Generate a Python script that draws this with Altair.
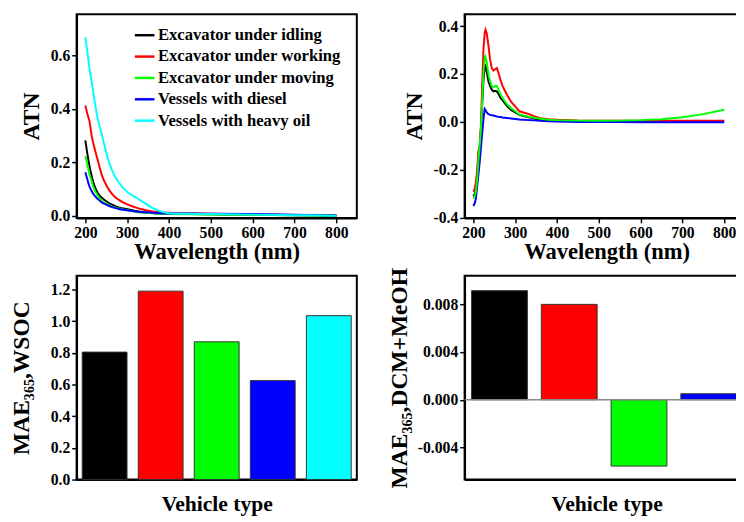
import altair as alt
import pandas as pd

FONT = "Liberation Serif"

series = ["Excavator under idling", "Excavator under working", "Excavator under moving",
          "Vessels with diesel", "Vessels with heavy oil"]
colors = ["#000000", "#FF0000", "#00FF00", "#0000FF", "#00FFFF"]

# ---- Panel (a): total ATN spectra ----
wl_a = [200, 205, 210, 215, 220, 230, 240, 250, 260, 270, 280, 300, 320, 340, 360, 380,
        400, 450, 500, 600, 700, 800]
atn_a_idling = [0.282, 0.23, 0.185, 0.15, 0.12, 0.085, 0.067, 0.055, 0.045, 0.038, 0.032,
                0.025, 0.019, 0.014, 0.011, 0.009, 0.008, 0.007, 0.006, 0.004, 0.003, 0.001]
atn_a_working = [0.413, 0.38, 0.352, 0.30, 0.265, 0.206, 0.15, 0.115, 0.09, 0.072, 0.060,
                 0.043, 0.032, 0.023, 0.017, 0.014, 0.012, 0.010, 0.008, 0.006, 0.004, 0.002]
atn_a_moving = [0.224, 0.19, 0.155, 0.13, 0.105, 0.075, 0.055, 0.045, 0.038, 0.032, 0.028,
                0.021, 0.016, 0.012, 0.010, 0.008, 0.007, 0.006, 0.005, 0.004, 0.003, 0.001]
atn_a_diesel = [0.163, 0.135, 0.109, 0.093, 0.08, 0.063, 0.05, 0.042, 0.035, 0.03, 0.026,
                0.021, 0.017, 0.014, 0.012, 0.010, 0.009, 0.009, 0.008, 0.007, 0.005, 0.002]
atn_a_heavy = [0.668, 0.61, 0.55, 0.50, 0.45, 0.36, 0.30, 0.235, 0.185, 0.15, 0.125,
               0.09, 0.07, 0.05, 0.03, 0.017, 0.010, 0.008, 0.007, 0.005, 0.003, 0.001]

# ---- Panel (b): ATN spectra (4 series) ----
wl_b = [200, 203, 206, 209, 212, 215, 218, 221, 224, 227, 229, 232, 236, 240, 244, 248, 252,
        256, 260, 265, 270, 280, 290, 300, 310, 320, 335, 345, 360, 380, 400, 450, 500, 550,
        600, 650, 700, 750, 800]
atn_b_idling = [-0.31, -0.3, -0.28, -0.23, -0.16, -0.1, -0.03, 0.07, 0.17, 0.23, 0.235, 0.21,
                0.17, 0.15, 0.135, 0.128, 0.13, 0.128, 0.118, 0.1, 0.09, 0.068, 0.05, 0.04,
                0.03, 0.025, 0.019, 0.015, 0.01, 0.007, 0.005, 0.004, 0.003, 0.003, 0.003,
                0.003, 0.003, 0.003, 0.003]
atn_b_working = [-0.29, -0.28, -0.25, -0.2, -0.12, -0.11, -0.02, 0.15, 0.3, 0.37, 0.385, 0.37,
                 0.32, 0.26, 0.225, 0.215, 0.22, 0.225, 0.205, 0.175, 0.15, 0.115, 0.085,
                 0.065, 0.045, 0.04, 0.032, 0.025, 0.016, 0.012, 0.01, 0.007, 0.006, 0.005,
                 0.005, 0.005, 0.005, 0.005, 0.005]
atn_b_moving = [-0.32, -0.31, -0.29, -0.24, -0.16, -0.1, -0.03, 0.08, 0.2, 0.27, 0.275, 0.25,
                0.2, 0.17, 0.15, 0.145, 0.15, 0.15, 0.135, 0.115, 0.1, 0.075, 0.058, 0.045,
                0.032, 0.027, 0.021, 0.018, 0.014, 0.01, 0.008, 0.006, 0.005, 0.006, 0.008,
                0.012, 0.02, 0.033, 0.051]
atn_b_diesel = [-0.35, -0.34, -0.32, -0.27, -0.22, -0.17, -0.11, -0.05, 0.01, 0.055, 0.05, 0.04,
                0.033, 0.03, 0.028, 0.027, 0.025, 0.023, 0.022, 0.021, 0.019, 0.017, 0.015,
                0.013, 0.011, 0.01, 0.008, 0.007, 0.005, 0.003, 0.002, 0.0, 0.0, 0.0, -0.001,
                -0.001, -0.001, -0.001, -0.001]

# ---- Panel (c) and (d): bar values ----
mae_wsoc = [0.805, 1.19, 0.87, 0.625, 1.035]
mae_dcm = [0.00915, 0.0080, -0.00557, 0.0005]   # 5th bar lies outside the visible area

color_map = dict(zip(series, colors))

rows = []
for i, (name, vals) in enumerate(zip(series, [atn_a_idling, atn_a_working, atn_a_moving,
                                              atn_a_diesel, atn_a_heavy])):
    for w, v in zip(wl_a, vals):
        rows.append({"series": name, "wl": w, "atn": v, "o": i})
df_a = pd.DataFrame(rows)

rows = []
for name, vals in [(series[0], atn_b_idling), (series[1], atn_b_working),
                   (series[3], atn_b_diesel), (series[2], atn_b_moving)]:
    for w, v in zip(wl_b, vals):
        rows.append({"series": name, "wl": w, "atn": v, "col": color_map[name]})
df_b = pd.DataFrame(rows)

df_c = pd.DataFrame({"series": series, "v": mae_wsoc, "col": colors})
df_d = pd.DataFrame({"series": series[:4], "v": mae_dcm, "col": colors[:4],
                     "idx": list(range(4))})

TITLE_SIZE = 24
LABEL_SIZE = 16
minus_fix = "replace(datum.label, '\u2212', '-')"

# right-hand panels run past the page edge and are cropped (negative right padding)
W1, W2 = 286, 290
W3, W4 = 286, 290
H = 208
STEP4 = 71.2   # bar step of panel d in pixels
NM_PER_PX = 600 / 256
XB = [179, 179 + W2 * NM_PER_PX]
YB = [-0.4, 0.45]
XD = [0, W4 / STEP4]
YD = [-0.0067, 0.0104]
FRAME = alt.ViewBackground(stroke="black", strokeWidth=2)

xa_axis = dict(values=[200, 300, 400, 500, 600, 700, 800], title="Wavelength (nm)",
               titleFontSize=23, tickSize=5, labelPadding=2, titlePadding=0,
               domainWidth=2)

# Panel a
pa = alt.Chart(df_a).mark_line(strokeWidth=2, interpolate="monotone").encode(
    x=alt.X("wl:Q", scale=alt.Scale(domain=[179, 849], nice=False, zero=False),
            axis=alt.Axis(**xa_axis)),
    y=alt.Y("atn:Q", scale=alt.Scale(domain=[-0.0075, 0.754], nice=False, zero=False),
            axis=alt.Axis(values=[0, 0.2, 0.4, 0.6], format=".1f", title="ATN",
                          titleFontSize=TITLE_SIZE, tickSize=5, labelPadding=2, titlePadding=7,
                          domainWidth=2)),
    color=alt.Color("series:N", sort=series,
                    scale=alt.Scale(domain=series, range=colors),
                    legend=alt.Legend(orient="none", legendX=58, legendY=10, title=None,
                                      symbolType="stroke", symbolSize=400, symbolStrokeWidth=2.5,
                                      labelFontSize=17, labelFont=FONT, labelFontWeight="bold",
                                      labelLimit=400, rowPadding=1.8, labelOffset=2, padding=0)),
    order=alt.Order("o:Q"),
).properties(width=W1, height=H, view=FRAME)

# Panel b
pb = alt.Chart(df_b).mark_line(strokeWidth=2).encode(
    x=alt.X("wl:Q", scale=alt.Scale(domain=XB, nice=False, zero=False),
            axis=alt.Axis(**xa_axis)),
    y=alt.Y("atn:Q", scale=alt.Scale(domain=YB, nice=False, zero=False),
            axis=alt.Axis(values=[-0.4, -0.2, 0, 0.2, 0.4], format=".1f", title="ATN",
                          labelExpr=minus_fix,
                          titleFontSize=TITLE_SIZE, tickSize=5, labelPadding=2, titlePadding=7,
                          domainWidth=2)),
    color=alt.Color("col:N", scale=None),
    detail="series:N",
).properties(width=W2, height=H, view=FRAME)

# Panel c
pc = alt.Chart(df_c).mark_bar(stroke="#333333", strokeWidth=1).encode(
    x=alt.X("series:N", sort=series,
            scale=alt.Scale(paddingInner=0.2, paddingOuter=0.1),
            axis=alt.Axis(labels=False, ticks=False, title="Vehicle type", titleFontSize=22,
                          titlePadding=15, domainWidth=2)),
    y=alt.Y("v:Q", scale=alt.Scale(domain=[0, 1.287], nice=False),
            axis=alt.Axis(values=[0, 0.2, 0.4, 0.6, 0.8, 1.0, 1.2], format=".1f",
                          title="MAE\u2083\u2086\u2085,WSOC", titleFontSize=TITLE_SIZE,
                          tickSize=5, labelPadding=2, titlePadding=17, domainWidth=2)),
    color=alt.Color("col:N", scale=None),
).properties(width=W3, height=H, view=FRAME)

# Panel d: bar i occupies [i+0.1, i+0.9] in units of one bar step
zero_d = alt.Chart(pd.DataFrame({"z": [0.0]})).mark_rule(color="#888888", strokeWidth=1.5).encode(
    y=alt.Y("z:Q"))
pd_bars = alt.Chart(df_d).transform_calculate(
    x0="datum.idx + 0.1", x1="datum.idx + 0.9", base="0"
).mark_bar(stroke="#333333", strokeWidth=1).encode(
    x=alt.X("x0:Q", scale=alt.Scale(domain=XD, nice=False, zero=False),
            axis=alt.Axis(labels=False, ticks=False, title="Vehicle type", titleFontSize=22,
                          titlePadding=15, domainWidth=2)),
    x2="x1:Q",
    y=alt.Y("v:Q", scale=alt.Scale(domain=YD, nice=False, zero=False),
            axis=alt.Axis(values=[-0.004, 0, 0.004, 0.008], format=".3f",
                          labelExpr=minus_fix,
                          title="MAE\u2083\u2086\u2085,DCM+MeOH", titleFontSize=TITLE_SIZE,
                          tickSize=5, labelPadding=2, titlePadding=6, domainWidth=2)),
    y2="base:Q",
    color=alt.Color("col:N", scale=None),
)
pdd = alt.layer(pd_bars, zero_d).properties(width=W4, height=H, view=FRAME)

chart = alt.concat(pa, pb, pc, pdd, columns=2, spacing={"row": 59, "column": 110},
                   bounds="flush").resolve_scale(color="independent").properties(
    padding={"left": 1, "top": 0, "right": -15, "bottom": 0}
).configure_axis(
    grid=False, labelFont=FONT, labelFontWeight="bold", labelFontSize=LABEL_SIZE,
    labelColor="black", titleFont=FONT, titleFontWeight="bold", titleColor="black",
    domainColor="black", tickColor="black", domainWidth=2, tickWidth=1.5
).configure_legend(
    labelFont=FONT, labelFontWeight="bold", labelColor="black"
)

chart.save("out.html", embed_options={"renderer": "svg", "actions": False})
